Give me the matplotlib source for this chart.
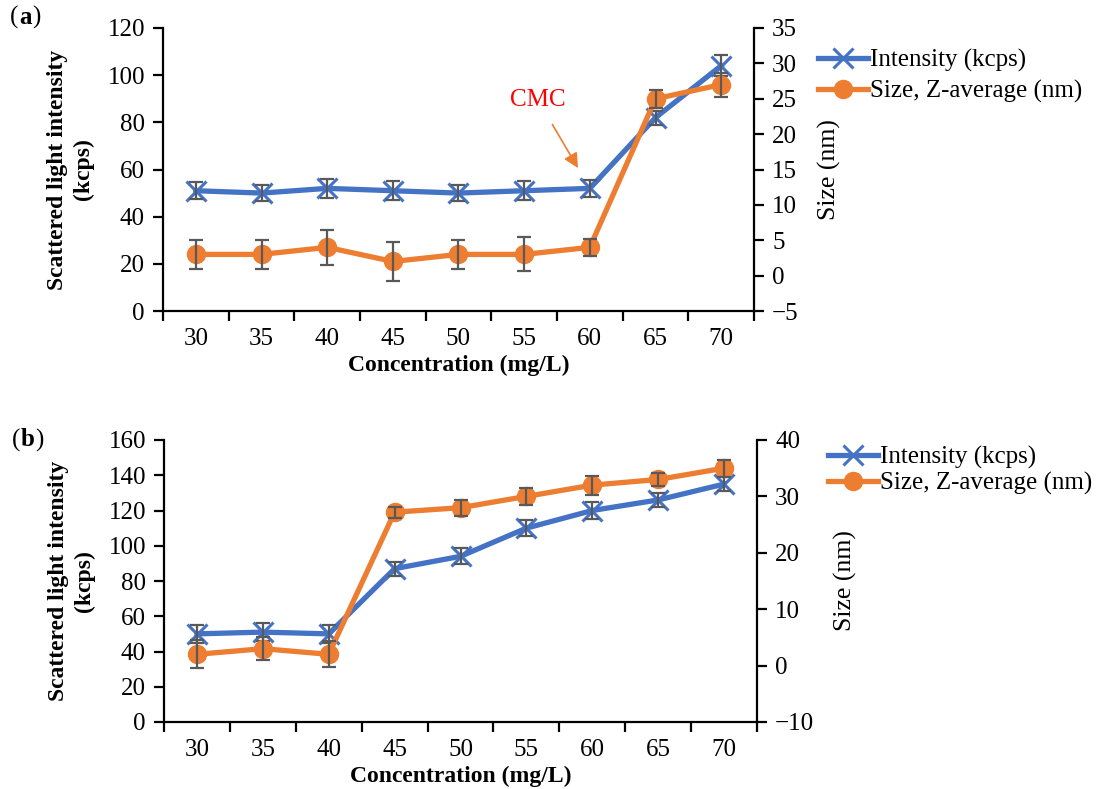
import matplotlib
matplotlib.use("Agg")
import matplotlib.pyplot as plt
import numpy as np

plt.rcParams['font.family'] = ['Liberation Serif', 'DejaVu Serif']

concentrations = ["30", "35", "40", "45", "50", "55", "60", "65", "70"]

# Panel (a)
int_a = [51, 50, 52, 51, 50, 51, 52, 82, 104]
int_a_err = [3.5, 3.5, 4, 4, 3.5, 4, 3.5, 3, 4.5]
size_a = [3, 3, 4, 2, 3, 3, 4, 25, 27]
size_a_err = [2, 2, 2.5, 2.8, 2, 2.4, 1.2, 1.3, 1.7]

# Panel (b)
int_b = [50, 51, 50, 87, 94, 110, 120, 126, 135]
int_b_err = [5, 5, 5, 4, 4.5, 4.5, 5, 4, 4]
size_b = [2, 3, 2, 27.2, 28, 30, 32, 33, 35]
size_b_err = [2.5, 2, 2.3, 1, 1.4, 1.5, 1.7, 1.1, 1.5]

BLUE = "#4472C4"
ORANGE = "#ED7D31"
GRAY = "#595959"
TFS = 18     # tick labels
LFS = 17     # bold axis labels
GFS = 18     # legend

W, H = 1103, 789
fig = plt.figure(figsize=(W / 100, H / 100), dpi=100)


def px_axes(x0, x1, y0, y1):
    return fig.add_axes([x0 / W, 1 - y1 / H, (x1 - x0) / W, (y1 - y0) / H])


def make_panel(x0, x1, y0, y1, ints, ierr, sizes, serr, lylim, lyticks, rylim, ryticks,
               legx, legy, legspace):
    ax = px_axes(x0, x1, y0, y1)
    x = np.arange(len(concentrations))
    ax.plot(x, ints, color=BLUE, lw=3.8, marker='x', ms=15, mew=2.2, zorder=2,
            label="Intensity (kcps)")
    ax.errorbar(x, ints, yerr=ierr, fmt='none', ecolor=GRAY, elinewidth=1.6,
                capsize=5, capthick=1.6, zorder=3)
    ax.set_xlim(-0.5, len(concentrations) - 0.5)
    ax.set_ylim(*lylim)
    ax.set_yticks(lyticks)
    ax.set_xticks(np.arange(-0.5, len(concentrations), 1.0))
    ax.set_xticklabels([])
    ax.set_xticks(x, minor=True)
    ax.set_xticklabels(concentrations, minor=True)
    ax.tick_params(axis='x', which='major', direction='out', length=7, width=1.6)
    ax.tick_params(axis='x', which='minor', length=0, pad=12, labelsize=TFS)
    ax.tick_params(axis='y', direction='out', length=7, width=1.6, labelsize=TFS, pad=6)
    for s in ['top', 'right']:
        ax.spines[s].set_visible(False)
    for s in ['left', 'bottom']:
        ax.spines[s].set_linewidth(1.6)
    ax.set_xlabel("Concentration (mg/L)", fontsize=LFS, fontweight='bold', labelpad=4)
    ax.set_ylabel("Scattered light intensity\n(kcps)", fontsize=LFS, fontweight='bold',
                  linespacing=1.25, labelpad=10)

    ax2 = ax.twinx()
    ax2.plot(x, sizes, color=ORANGE, lw=3.8, marker='o', ms=13, zorder=2,
             label="Size, Z-average (nm)")
    ax2.errorbar(x, sizes, yerr=serr, fmt='none', ecolor=GRAY, elinewidth=1.6,
                 capsize=5, capthick=1.6, zorder=3)
    ax2.set_ylim(*rylim)
    ax2.set_yticks(ryticks)
    ax2.set_yticklabels([str(v).replace('-', '\u2212') for v in ryticks])
    ax2.tick_params(axis='y', direction='out', length=7, width=1.6, labelsize=TFS, pad=6)
    for s in ['top', 'left', 'bottom']:
        ax2.spines[s].set_visible(False)
    ax2.spines['right'].set_linewidth(1.6)
    ax2.set_ylabel("Size (nm)", fontsize=18.5, labelpad=14)

    h1, l1 = ax.get_legend_handles_labels()
    h2, l2 = ax2.get_legend_handles_labels()
    fig.legend(h1 + h2, l1 + l2, loc='upper left',
               bbox_to_anchor=(legx / W, 1 - legy / H), frameon=False,
               fontsize=GFS, handlelength=2.0, handletextpad=0.1,
               labelspacing=legspace, borderaxespad=0, borderpad=0)
    return ax, ax2


axa, axa2 = make_panel(163, 754, 28, 311, int_a, int_a_err, size_a, size_a_err,
                       (0, 120), range(0, 121, 20), (-5, 35), list(range(-5, 36, 5)),
                       818, 49, 0.3)
axa.annotate("CMC", xy=(5.82, 60.6), xytext=(5.21, 89.5), color='red', fontsize=GFS,
             ha='center', va='center',
             arrowprops=dict(arrowstyle='-|>', color=ORANGE, lw=1.2,
                             mutation_scale=22, shrinkA=9, shrinkB=0))

axb, axb2 = make_panel(164, 757, 440, 722, int_b, int_b_err, size_b, size_b_err,
                       (0, 160), range(0, 161, 20), (-10, 40), list(range(-10, 41, 10)),
                       828, 446, 0.12)

renderer = fig.canvas.get_renderer()


def panel_tag(x, y, letter):
    parts = [("(", 'normal'), (letter, 'bold'), (")", 'normal')]
    cx = x
    for txt, wt in parts:
        t = fig.text(cx / W, 1 - y / H, txt, fontsize=GFS, fontweight=wt,
                     va='center', ha='left')
        bb = t.get_window_extent(renderer)
        cx += bb.width + 0.5


panel_tag(10, 17, "a")
panel_tag(12, 440, "b")

fig.savefig("out.png", dpi=100)
